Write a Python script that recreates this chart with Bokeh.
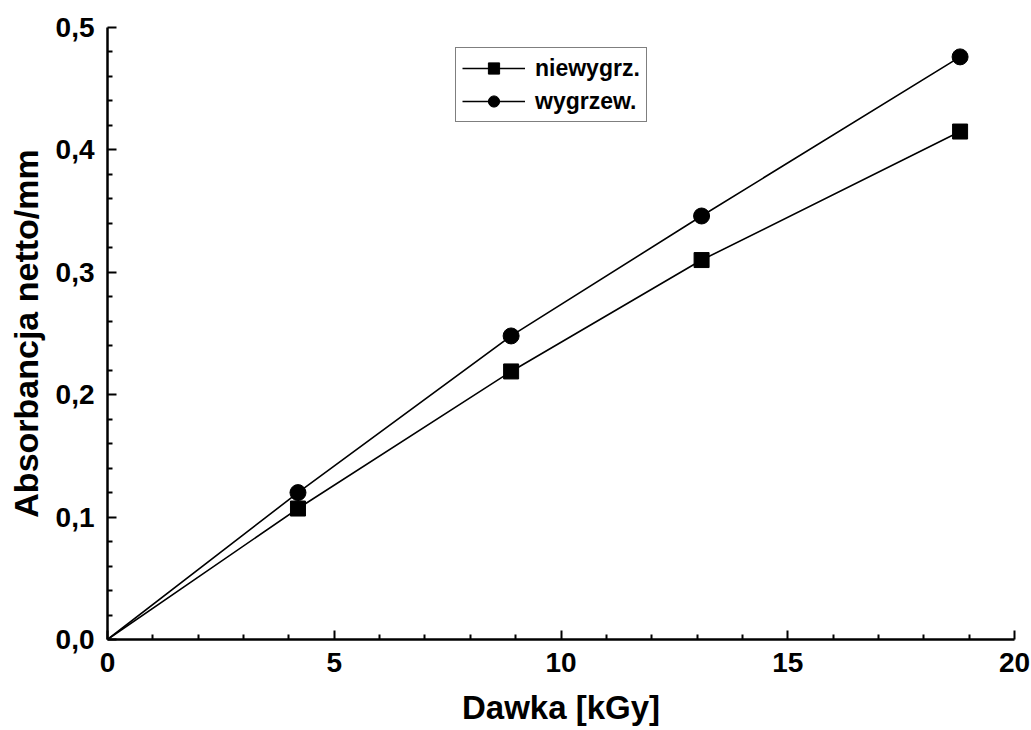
from bokeh.plotting import figure
from bokeh.models import (Range1d, FixedTicker, CustomJSTickFormatter, Legend, LegendItem)
from bokeh.embed import file_html
from bokeh.resources import INLINE

# Data
dose = [0.0, 4.2, 8.9, 13.1, 18.8]
niewygrz = [0.0, 0.107, 0.219, 0.310, 0.415]
wygrzew = [0.0, 0.120, 0.248, 0.346, 0.476]
series_names = ["niewygrz.", "wygrzew."]
x_ticks = [0, 5, 10, 15, 20]
x_minor = [1, 2, 3, 4, 6, 7, 8, 9, 11, 12, 13, 14, 16, 17, 18, 19]
y_ticks = [0.0, 0.1, 0.2, 0.3, 0.4, 0.5]
y_minor = [0.02, 0.04, 0.06, 0.08, 0.12, 0.14, 0.16, 0.18, 0.22, 0.24, 0.26, 0.28,
           0.32, 0.34, 0.36, 0.38, 0.42, 0.44, 0.46, 0.48]

FONT = "Liberation Sans"

p = figure(width=1031, height=730, output_backend="svg", toolbar_location=None,
           x_range=Range1d(0, 20), y_range=Range1d(0, 0.5),
           min_border_left=107, min_border_right=17, min_border_top=27, min_border_bottom=91)
p.outline_line_color = None
p.xgrid.visible = False
p.ygrid.visible = False
p.background_fill_color = "white"
p.border_fill_color = "white"

l1 = p.line(dose, niewygrz, line_color="black", line_width=1.6)
s1 = p.scatter(dose[1:], niewygrz[1:], marker="square", size=15, fill_color="black", line_color="black")
l2 = p.line(dose, wygrzew, line_color="black", line_width=1.6)
s2 = p.scatter(dose[1:], wygrzew[1:], marker="circle", size=16, fill_color="black", line_color="black")

for ax in (p.xaxis[0], p.yaxis[0]):
    ax.axis_line_width = 2.5
    ax.axis_line_color = "black"
    ax.major_tick_line_width = 2
    ax.minor_tick_line_width = 2
    ax.major_tick_in = 9
    ax.major_tick_out = 0
    ax.minor_tick_in = 5
    ax.minor_tick_out = 0
    ax.major_label_text_font = FONT
    ax.major_label_text_font_style = "bold"
    ax.major_label_text_font_size = "28px"
    ax.major_label_text_color = "black"
    ax.axis_label_text_font = FONT
    ax.axis_label_text_font_style = "bold"
    ax.axis_label_text_color = "black"

p.xaxis[0].axis_label_text_font_size = "33px"
p.yaxis[0].axis_label_text_font_size = "34px"
p.xaxis[0].ticker = FixedTicker(ticks=x_ticks, minor_ticks=x_minor)
p.yaxis[0].ticker = FixedTicker(ticks=y_ticks, minor_ticks=y_minor)
p.yaxis[0].formatter = CustomJSTickFormatter(code="return tick.toFixed(1).replace('.', ',');")
p.xaxis[0].formatter = CustomJSTickFormatter(code="return tick.toFixed(0);")
p.xaxis[0].axis_label = "Dawka [kGy]"
p.yaxis[0].axis_label = "Absorbancja netto/mm"
p.xaxis[0].major_label_standoff = 13
p.yaxis[0].major_label_standoff = 13
p.xaxis[0].axis_label_standoff = 14
p.yaxis[0].axis_label_standoff = 8

legend = Legend(items=[LegendItem(label=series_names[0], renderers=[l1, s1]),
                       LegendItem(label=series_names[1], renderers=[l2, s2])],
                location=(348, 517))
legend.border_line_color = "black"
legend.border_line_width = 1.5
legend.background_fill_color = "white"
legend.background_fill_alpha = 1
legend.label_text_font = FONT
legend.label_text_font_style = "bold"
legend.label_text_font_size = "23px"
legend.label_text_color = "black"
legend.glyph_width = 63
legend.glyph_height = 28
legend.label_height = 28
legend.label_standoff = 10
legend.spacing = 5
legend.padding = 6
legend.margin = 0
p.add_layout(legend, "center")

open("out.html", "w").write(file_html(p, INLINE))
